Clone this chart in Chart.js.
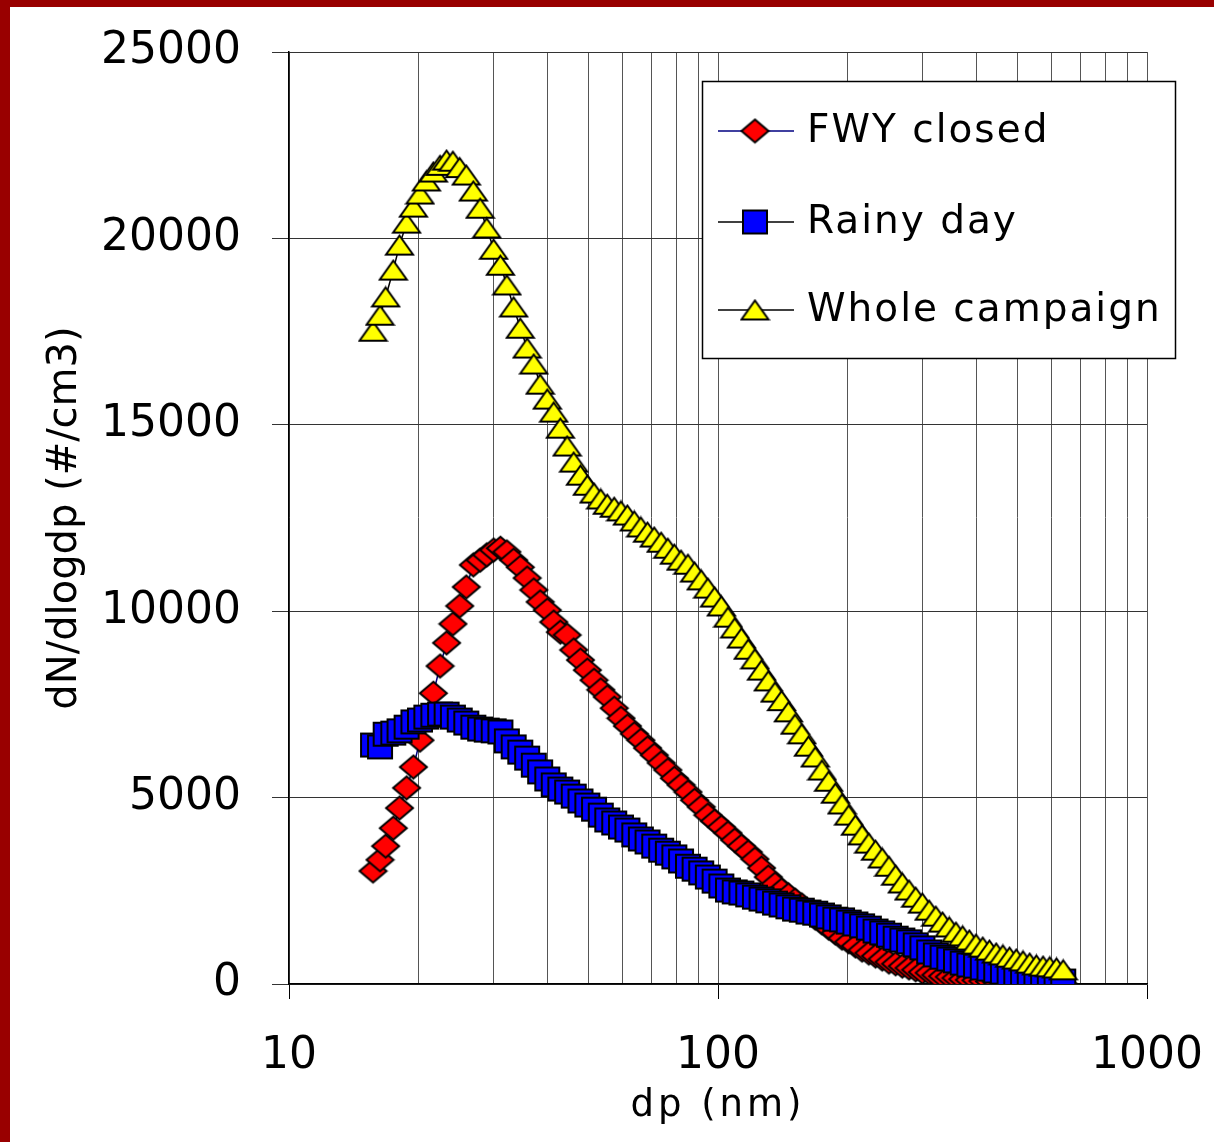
<!DOCTYPE html>
<html><head><meta charset="utf-8">
<script src="https://cdn.jsdelivr.net/npm/chart.js@4.4.1/dist/chart.umd.min.js"></script>
<style>
html,body{margin:0;padding:0;background:#fff;}
#wrap{position:relative;width:1214px;height:1142px;overflow:hidden;background:#fff;}
#c{position:absolute;left:0;top:0;}
.bar{position:absolute;background:#990000;}
</style></head><body>
<div id="wrap"><canvas id="c" width="1214" height="1142"></canvas>
<div class="bar" style="left:0;top:0;width:1214px;height:7px"></div>
<div class="bar" style="left:0;top:0;width:10px;height:1142px"></div>
</div>
<script>
// particle diameter channels (nm)
const diameters = [
  15.7,16.3,16.8,17.5,18.1,18.8,19.5,20.2,20.9,21.7,
  22.5,23.3,24.1,25.0,25.9,26.9,27.9,28.9,30.0,31.1,
  32.2,33.4,34.6,35.9,37.2,38.5,40.0,41.4,42.9,44.5,
  46.1,47.8,49.6,51.4,53.3,55.2,57.3,59.4,61.5,63.8,
  66.1,68.5,71.0,73.7,76.4,79.1,82.0,85.1,88.2,91.4,
  94.7,98.2,101.8,105.5,109.4,113.4,117.6,121.9,126.3,131.0,
  135.8,140.7,145.9,151.2,156.8,162.5,168.5,174.7,181.1,187.7,
  194.6,201.7,209.1,216.7,224.7,232.9,241.4,250.3,259.5,269.0,
  278.8,289.0,299.6,310.6,322.0,333.8,346.0,358.7,371.8,385.4,
  399.5,414.2,429.4,445.1,461.4,478.3,495.8,514.0,532.8,552.3,
  572.5,593.5,615.3,637.8
];
const fwyClosed = [
  3030,3330,3700,4180,4720,5260,5820,6540,7190,7800,
  8530,9150,9660,10140,10650,11240,11370,11510,11640,11690,
  11590,11370,11180,10890,10570,10250,10030,9710,9440,9360,
  8960,8690,8420,8150,7890,7700,7400,7130,6920,6710,
  6540,6330,6140,5930,5740,5520,5340,5150,4930,4750,
  4530,4370,4210,4050,3860,3700,3540,3350,3110,2870,
  2680,2520,2390,2250,2120,1930,1770,1640,1500,1370,
  1230,1130,1020,910,830,750,670,590,540,480,
  430,380,320,300,240,210,190,160,130,110,
  100,80,70,60,50,40,35,30,25,20,
  15,12,10,8
];
const rainyDay = [
  6410,6360,6700,6730,6790,6890,7030,7080,7160,7210,
  7240,7240,7160,7080,7000,6890,6840,6810,6790,6760,
  6520,6360,6220,6060,5870,5690,5500,5340,5230,5150,
  5040,4910,4800,4690,4530,4400,4320,4210,4130,4000,
  3890,3810,3700,3590,3510,3410,3300,3160,3080,2980,
  2870,2760,2630,2520,2470,2440,2390,2330,2280,2230,
  2170,2120,2070,2010,1980,1930,1900,1850,1800,1740,
  1720,1660,1610,1560,1500,1420,1370,1310,1230,1180,
  1130,1050,970,860,780,720,670,620,560,510,
  480,430,400,350,320,270,240,210,190,160,
  130,130,110,80
];
const wholeCampaign = [
  17510,17940,18430,19150,19820,20410,20840,21190,21540,21780,
  21960,22100,22070,21900,21700,21270,20810,20280,19710,19280,
  18750,18160,17590,17060,16630,16090,15690,15340,14910,14430,
  14000,13650,13380,13170,13010,12870,12790,12690,12580,12420,
  12260,12120,11990,11850,11690,11530,11370,11260,11050,10840,
  10620,10380,10140,9840,9550,9280,8980,8720,8420,8130,
  7830,7600,7300,6970,6710,6380,6090,5740,5440,5120,
  4830,4530,4260,4000,3780,3590,3380,3160,2920,2710,
  2520,2330,2170,1980,1820,1660,1530,1390,1290,1180,
  1070,990,910,830,780,720,670,620,560,510,
  480,460,430,380
];
const seriesNames = ['FWY closed', 'Rainy day', 'Whole campaign'];
const xTickValues = [10,20,30,40,50,60,70,80,90,100,200,300,400,500,600,700,800,900,1000];
const xTickLabels = ['10','100','1000'];
const yTickValues = [0,5000,10000,15000,20000,25000];
const xTitle = 'dp (nm)';
const yTitle = 'dN/dlogdp (#/cm3)';

const FONT = '"DejaVu Sans", Verdana, sans-serif';

function makeMarker(shape, w, h, fill) {
  const pad = 2;
  const c = document.createElement('canvas');
  c.width = w + pad * 2; c.height = h + pad * 2;
  const g = c.getContext('2d');
  g.translate(pad, pad);
  g.beginPath();
  if (shape === 'diamond') {
    g.moveTo(w / 2, 0); g.lineTo(w, h / 2); g.lineTo(w / 2, h); g.lineTo(0, h / 2); g.closePath();
  } else if (shape === 'square') {
    g.rect(0, 0, w, h);
  } else {
    g.moveTo(w / 2, 0); g.lineTo(w, h); g.lineTo(0, h); g.closePath();
  }
  g.fillStyle = fill; g.fill();
  g.lineWidth = 2; g.strokeStyle = '#000'; g.lineJoin = 'miter'; g.stroke();
  return c;
}
const mDiamond = makeMarker('diamond', 27, 23, '#ff0000');
const mSquare = makeMarker('square', 24, 23, '#0000ff');
const mTriangle = makeMarker('triangle', 27, 19, '#ffff00');

function pts(vals) { return diameters.map((d, i) => ({x: d, y: vals[i]})); }
const isMajor = v => Math.abs(Math.log10(v) - Math.round(Math.log10(v))) < 1e-9;

const legendPlugin = {
  id: 'boxLegend',
  afterDraw(chart) {
    const ctx = chart.ctx, ca = chart.chartArea;
    const bx = ca.left + 413, by = ca.top + 29, bw = 473, bh = 277;
    ctx.save();
    ctx.fillStyle = '#fff';
    ctx.fillRect(bx, by, bw, bh);
    ctx.strokeStyle = '#000'; ctx.lineWidth = 1.5;
    ctx.strokeRect(bx + 0.5, by + 0.5, bw, bh);
    const rowY = [50, 141, 229];
    chart.data.datasets.forEach((ds, i) => {
      const y = by + rowY[i];
      ctx.beginPath();
      ctx.strokeStyle = ds.borderColor; ctx.lineWidth = 1.5;
      ctx.moveTo(bx + 16, y); ctx.lineTo(bx + 92, y); ctx.stroke();
      const m = ds.pointStyle;
      ctx.drawImage(m, bx + 53 - m.width / 2, y - m.height / 2);
      ctx.fillStyle = '#000';
      ctx.font = '39px ' + FONT;
      ctx.letterSpacing = '2px';
      ctx.textBaseline = 'middle';
      ctx.textAlign = 'left';
      ctx.fillText(ds.label, bx + 105, y + 1);
    });
    ctx.restore();
  }
};

const titleSpacingPlugin = {
  id: 'titleSpacing',
  afterUpdate(chart) {
    const s = chart.scales.x;
    if (!s._spacedTitle) {
      const orig = s.drawTitle.bind(s);
      s.drawTitle = function(area) {
        chart.ctx.save();
        chart.ctx.letterSpacing = '4px';
        orig(area);
        chart.ctx.restore();
      };
      s._spacedTitle = true;
    }
  }
};

new Chart(document.getElementById('c'), {
  type: 'scatter',
  data: {
    datasets: [
      {label: seriesNames[0], data: pts(fwyClosed), showLine: true, borderColor: '#000080', borderWidth: 1.5,
       pointStyle: mDiamond, pointRadius: 12, order: 2},
      {label: seriesNames[1], data: pts(rainyDay), showLine: true, borderColor: '#000000', borderWidth: 1.5,
       pointStyle: mSquare, pointRadius: 12, order: 1},
      {label: seriesNames[2], data: pts(wholeCampaign), showLine: true, borderColor: '#000000', borderWidth: 1.5,
       pointStyle: mTriangle, pointRadius: 12, order: 0}
    ]
  },
  options: {
    responsive: false,
    animation: false,
    layout: {padding: {top: 52, right: 67, left: 0, bottom: 0}},
    plugins: {legend: {display: false}, tooltip: {enabled: false}},
    scales: {
      x: {
        type: 'logarithmic', min: 10, max: 1000,
        afterBuildTicks(scale) { scale.ticks = xTickValues.map(v => ({value: v, major: isMajor(v)})); },
        afterFit(scale) { scale.height = 158; scale.paddingLeft = 0; scale.paddingRight = 0; },
        ticks: {
          autoSkip: false, maxRotation: 0, minRotation: 0, padding: 31, color: '#000',
          font: {family: FONT, size: 44},
          callback: (v) => xTickLabels.includes(String(v)) ? String(v) : ''
        },
        grid: {
          color: '#555', lineWidth: 1, tickLength: 15,
          tickColor: (ctx) => (ctx.tick && isMajor(ctx.tick.value)) ? '#000' : 'rgba(0,0,0,0)'
        },
        border: {display: true, color: '#000', width: 1.5},
        title: {display: true, text: xTitle, color: '#000', font: {family: FONT, size: 37},
                padding: {top: 0, bottom: 13}}
      },
      y: {
        min: 0, max: 25000,
        afterBuildTicks(scale) { scale.ticks = yTickValues.map(v => ({value: v})); },
        afterFit(scale) { scale.width = 289; scale.paddingTop = 0; scale.paddingBottom = 0; },
        ticks: {padding: 31, color: '#000', font: {family: FONT, size: 44}, callback: (v) => String(v)},
        grid: {color: '#333', lineWidth: 1, tickLength: 17, tickColor: '#333'},
        border: {display: true, color: '#000', width: 1.5},
        title: {display: true, text: yTitle, color: '#000', font: {family: FONT, size: 40},
                padding: {top: 42, bottom: 0}}
      }
    }
  },
  plugins: [legendPlugin, titleSpacingPlugin]
});
</script>
</body></html>
